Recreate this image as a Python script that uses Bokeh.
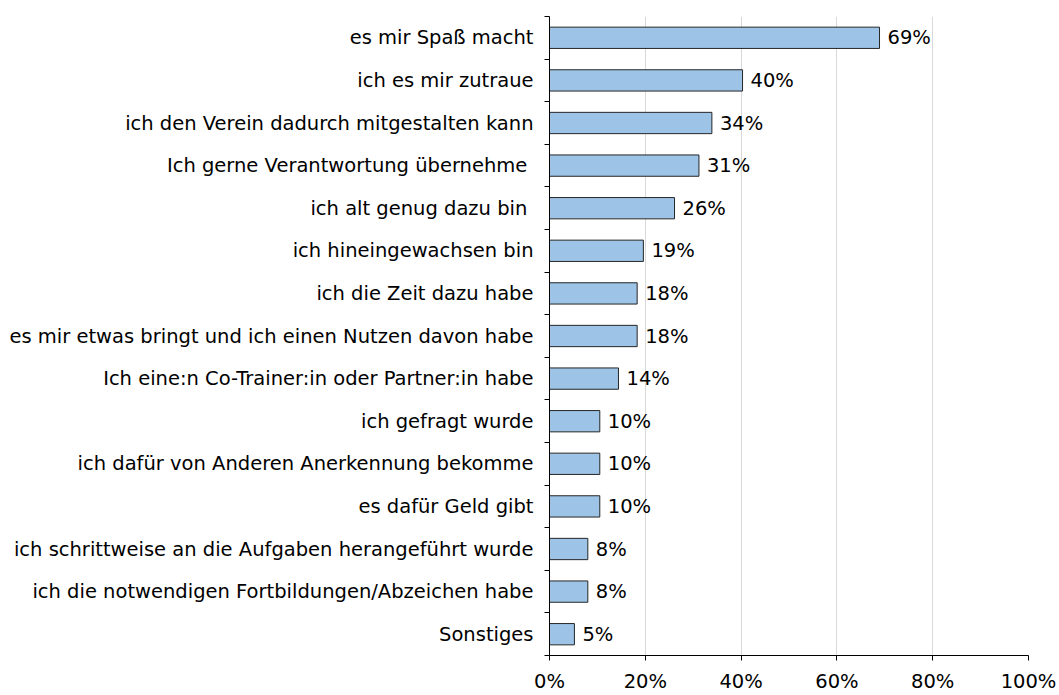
from bokeh.plotting import figure
from bokeh.models import Range1d, FixedTicker, ColumnDataSource
from bokeh.core.properties import value
from bokeh.embed import file_html
from bokeh.resources import INLINE

categories = [
    "es mir Spaß macht",
    "ich es mir zutraue",
    "ich den Verein dadurch mitgestalten kann",
    "Ich gerne Verantwortung übernehme ",
    "ich alt genug  dazu bin",
    "ich hineingewachsen bin",
    "ich die Zeit dazu habe",
    "es mir etwas bringt und ich einen Nutzen davon habe",
    "Ich eine:n Co-Trainer:in oder Partner:in habe",
    "ich gefragt wurde",
    "ich dafür von Anderen Anerkennung bekomme",
    "es dafür Geld gibt",
    "ich schrittweise an die Aufgaben herangeführt wurde",
    "ich die notwendigen Fortbildungen/Abzeichen habe",
    "Sonstiges",
]
values = [68.9, 40.3, 33.9, 31.2, 26.1, 19.6, 18.3, 18.3, 14.4, 10.5, 10.5, 10.5, 8.0, 8.0, 5.2]
value_labels = ["69%", "40%", "34%", "31%", "26%", "19%", "18%", "18%", "14%",
                "10%", "10%", "10%", "8%", "8%", "5%"]
x_ticks = [0, 20, 40, 60, 80, 100]
x_tick_labels = ["0%", "20%", "40%", "60%", "80%", "100%"]

FONT = "DejaVu Sans"
FS = "19.5px"

n = len(categories)
pos = [i + 0.5 for i in range(n)]
bounds = list(range(n + 1))

src = ColumnDataSource(dict(y=pos, v=values, lab=value_labels))

p = figure(width=1059, height=695, output_backend="svg", toolbar_location=None,
           x_range=Range1d(0, 100), y_range=Range1d(n, 0),
           min_border_left=549, min_border_right=31, min_border_top=16, min_border_bottom=37)
p.outline_line_color = None
p.background_fill_color = "white"
p.border_fill_color = "white"

p.hbar(y="y", right="v", left=0, height=0.5, source=src,
       fill_color="#9DC3E6", line_color="#262626", line_width=1)
p.text(x="v", y="y", text="lab", source=src, x_offset=8, text_baseline="middle",
       text_align="left", text_font=value(FONT), text_font_size=FS, text_color="black")

# grid
p.ygrid.visible = False
p.xgrid.grid_line_color = "#d9d9d9"
p.xgrid.grid_line_width = 1

# bottom axis
xa = p.xaxis[0]
xa.ticker = FixedTicker(ticks=x_ticks)
xa.major_label_overrides = {t: l for t, l in zip(x_ticks, x_tick_labels)}
xa.major_tick_out = 5
xa.major_tick_in = 0
xa.minor_tick_line_color = None
xa.axis_line_color = "black"
xa.major_tick_line_color = "black"
xa.major_label_text_font = FONT
xa.major_label_text_font_size = FS
xa.major_label_text_color = "black"
xa.major_label_standoff = 9

# left axis: labels at category centers, minor ticks at category boundaries
ya = p.yaxis[0]
ya.ticker = FixedTicker(ticks=pos, minor_ticks=bounds)
ya.major_label_overrides = {p_: c for p_, c in zip(pos, categories)}
ya.major_tick_line_color = None
ya.major_tick_out = 0
ya.major_tick_in = 0
ya.minor_tick_line_color = "black"
ya.minor_tick_out = 5
ya.minor_tick_in = 0
ya.axis_line_color = "black"
ya.major_label_standoff = 11
ya.major_label_text_font = FONT
ya.major_label_text_font_size = FS
ya.major_label_text_color = "black"

open("out.html", "w").write(file_html(p, INLINE))
